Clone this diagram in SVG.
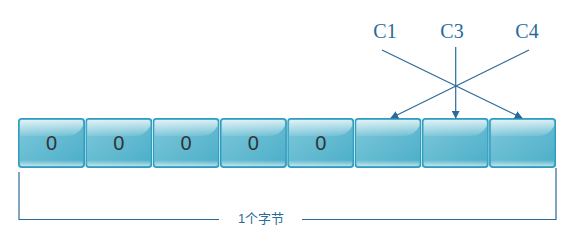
<svg xmlns="http://www.w3.org/2000/svg" width="578" height="250" viewBox="0 0 578 250">
<defs>
<linearGradient id="g" x1="0" y1="0" x2="1" y2="1">
<stop offset="0" stop-color="#7fc8da"/>
<stop offset="1" stop-color="#4aaec8"/>
</linearGradient>
<linearGradient id="hl" x1="0" y1="0" x2="0" y2="1">
<stop offset="0" stop-color="#ffffff" stop-opacity="0.75"/>
<stop offset="1" stop-color="#ffffff" stop-opacity="0.1"/>
</linearGradient>
<linearGradient id="bt" x1="0" y1="0" x2="0" y2="1">
<stop offset="0" stop-color="#ffffff" stop-opacity="0"/>
<stop offset="1" stop-color="#ffffff" stop-opacity="0.6"/>
</linearGradient>
<symbol id="cell" viewBox="0 0 67 50" width="67" height="50">
<rect x="0.75" y="0.75" width="65.5" height="48.5" rx="3" fill="url(#g)" stroke="#2e9dc0" stroke-width="1.5"/>
<path d="M2,3 Q2,2 4,2 L63,2 Q65,2 65,4 L65,8 Q60,18 48,18 L2,18 Z" fill="url(#hl)"/>
<rect x="2" y="42" width="63" height="6" rx="2" fill="url(#bt)"/>
</symbol>
<marker id="arr" viewBox="0 0 10 10" refX="9" refY="5" markerWidth="8" markerHeight="8" orient="auto" markerUnits="userSpaceOnUse">
<path d="M0,0 L10,5 L0,10 Z" fill="#2a6a9a"/>
</marker>
<style>
.lbl{font-family:"Liberation Serif","DejaVu Serif",serif;font-size:20px;fill:#2a6a9a;text-anchor:middle}
.dig{font-family:"Liberation Sans","DejaVu Sans",sans-serif;font-size:20px;fill:#333;text-anchor:middle}
.ln{stroke:#2a6a9a;stroke-width:1.2;fill:none}
.cap{font-family:"Liberation Sans","Noto Sans CJK SC",sans-serif;font-size:13px;fill:#2a6a9a;text-anchor:middle}
</style>
</defs>
<g id="cells">
<g id="b0"><use href="#cell" x="18" y="118"/><text class="dig" x="51.5" y="150">0</text></g>
<g id="b1"><use href="#cell" x="85.3" y="118"/><text class="dig" x="118.8" y="150">0</text></g>
<g id="b2"><use href="#cell" x="152.6" y="118"/><text class="dig" x="186.1" y="150">0</text></g>
<g id="b3"><use href="#cell" x="219.9" y="118"/><text class="dig" x="253.4" y="150">0</text></g>
<g id="b4"><use href="#cell" x="287.2" y="118"/><text class="dig" x="320.7" y="150">0</text></g>
<g id="b5"><use href="#cell" x="354.5" y="118"/></g>
<g id="b6"><use href="#cell" x="421.8" y="118"/></g>
<g id="b7"><use href="#cell" x="489.1" y="118"/></g>
</g>
<g id="labels">
<text class="lbl" x="385" y="38">C1</text>
<text class="lbl" x="452" y="38">C3</text>
<text class="lbl" x="527" y="38">C4</text>
</g>
<g id="connectors">
<line class="ln" x1="382" y1="50" x2="522" y2="118" marker-end="url(#arr)"/>
<line class="ln" x1="529" y1="50" x2="391" y2="118" marker-end="url(#arr)"/>
<line class="ln" x1="455.7" y1="47" x2="455.7" y2="118" marker-end="url(#arr)"/>
<polyline class="ln" points="19,172 19,219.5 219,219.5"/>
<polyline class="ln" points="302,219.5 556,219.5 556,168"/>
</g>
<text class="cap" x="261" y="223">1个字节</text>
</svg>
